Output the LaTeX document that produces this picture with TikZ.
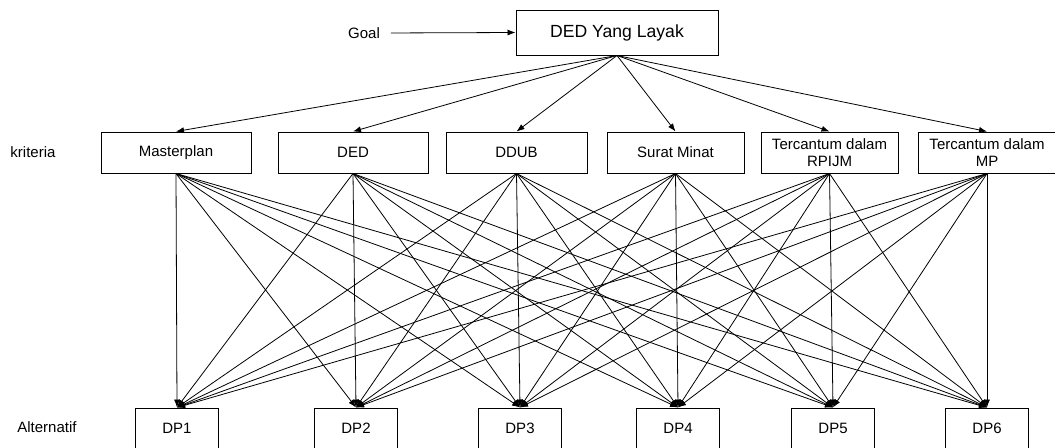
\documentclass[tikz,border=0pt]{standalone}
\usepackage{fontspec}
\setmainfont{Liberation Sans}
\usetikzlibrary{arrows.meta,positioning}
\tikzset{
  box/.style={draw,line width=0.75pt,inner sep=2pt,align=center,
    font=\fontsize{11.25}{12.5}\selectfont},
  crit/.style={box,minimum height=30.75pt},
  alt/.style={box,minimum width=62pt,minimum height=30pt},
  goalbox/.style={box,minimum width=151.5pt,minimum height=33.75pt,
    font=\fontsize{13.2}{15}\selectfont},
  plain/.style={inner sep=2pt,font=\fontsize{11.25}{12.5}\selectfont},
  link/.style={-{Latex[length=6pt,width=4.5pt]},line width=0.6pt},
}
\begin{document}
\begin{tikzpicture}[x=0.75pt,y=-0.75pt]
  \useasboundingbox (0,0) rectangle (1055,447);
  \node[goalbox](goal) at (617,32.5){DED Yang Layak};
  \node[plain](goallab) at (364,33){Goal};
  \draw[link,shorten <=6pt](goallab.east)--(goal.west);
  % kriteria
  \node[plain](klab) at (33,152){kriteria};
  \node[crit,minimum width=112.5pt](c1) at (176,152.5){Masterplan};
  \node[crit,minimum width=112.5pt](c2) at (353,152.5){DED};
  \node[crit,minimum width=105.75pt](c3) at (516.5,152.5){DDUB};
  \node[crit,minimum width=102.75pt](c4) at (675.5,152.5){Surat Minat};
  \node[crit,minimum width=102.75pt](c5) at (829.5,152.5){Tercantum dalam\\RPIJM};
  \node[crit,minimum width=103.5pt](c6) at (987,152.5){Tercantum dalam\\MP};
  % alternatif
  \node[plain](alab) at (47,427){Alternatif};
  \node[alt](d1) at (177,428){DP1};
  \node[alt](d2) at (356,428){DP2};
  \node[alt](d3) at (520,428){DP3};
  \node[alt](d4) at (678,428){DP4};
  \node[alt](d5) at (833,428){DP5};
  \node[alt](d6) at (987,428){DP6};
  \foreach \c in {c1,c2,c3,c4,c5,c6} \draw[link](goal.south)--(\c.north);
  \foreach \c in {c1,c2,c3,c4,c5,c6}
    \foreach \d in {d1,d2,d3,d4,d5,d6} \draw[link](\c.south)--(\d.north);
\end{tikzpicture}
\end{document}
